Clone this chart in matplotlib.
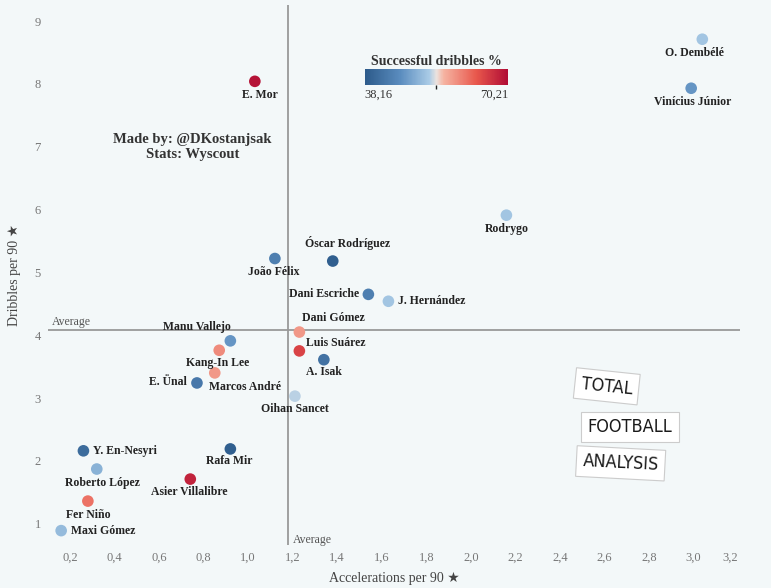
import matplotlib.pyplot as plt
import numpy as np
from matplotlib.colors import LinearSegmentedColormap, Normalize
from matplotlib.colorbar import ColorbarBase

# data
players = ['O. Dembélé', 'Vinícius Júnior', 'E. Mor', 'Rodrygo', 'João Félix',
           'Óscar Rodríguez', 'Dani Escriche', 'J. Hernández', 'Dani Gómez',
           'Manu Vallejo', 'Kang-In Lee', 'Luis Suárez', 'A. Isak', 'Marcos André',
           'E. Ünal', 'Oihan Sancet', 'Y. En-Nesyri', 'Roberto López', 'Rafa Mir',
           'Asier Villalibre', 'Fer Niño', 'Maxi Gómez']
accel = [3.04, 2.99, 1.03, 2.16, 1.12, 1.38, 1.54, 1.63, 1.23, 0.92, 0.87,
         1.23, 1.34, 0.85, 0.77, 1.21, 0.26, 0.32, 0.92, 0.74, 0.28, 0.16]
dribbles = [8.71, 7.93, 8.04, 5.91, 5.22, 5.18, 4.65, 4.54, 4.05, 3.91, 3.76,
            3.75, 3.61, 3.40, 3.24, 3.03, 2.16, 1.87, 2.19, 1.71, 1.36, 0.89]
success = [52, 47, 69.5, 52, 44, 39, 44, 52, 58, 47, 59,
           65, 42, 58, 43, 53, 41, 50, 39, 68, 61, 51]

# label offsets (points) and alignment
offsets = [(-6, -10, 'center'), (1, -10, 'center'), (4, -10, 'center'), (0, -10, 'center'),
           (-1, -10, 'center'), (11, 13, 'center'), (-7, 0, 'right'), (7, 0, 'left'),
           (2, 10, 'left'), (-24, 10, 'center'), (-1, -9, 'center'), (5, 6, 'left'),
           (0, -9, 'center'), (22, -10, 'center'), (-7, 1, 'right'), (0, -9, 'center'),
           (7, 0, 'left'), (4, -10, 'center'), (-1, -9, 'center'), (-1, -9, 'center'),
           (0, -10, 'center'), (7, 0, 'left')]

avg_x = 1.18
avg_y = 4.08
cmin, cmax = 38.16, 70.21

bg = '#f3f8f9'
plt.rcParams['font.family'] = ['Liberation Serif', 'DejaVu Sans']

cmap = LinearSegmentedColormap.from_list('dr', [
    (0, '#2c5a8a'), (0.25, '#5b8dbf'), (0.45, '#a9cbe6'), (0.5, '#ebe3df'),
    (0.55, '#f5b4a2'), (0.78, '#e8574c'), (1, '#b00c35')])
norm = Normalize(cmin, cmax)

fig = plt.figure(figsize=(7.71, 5.88), dpi=100, facecolor=bg)
ax = fig.add_axes([0.062, 0.073, 0.898, 0.918], facecolor=bg)

ax.axhline(avg_y, color='#999999', lw=1.3, zorder=1)
ax.axvline(avg_x, color='#999999', lw=1.3, zorder=1)

ax.scatter(accel, dribbles, c=success, cmap=cmap, norm=norm, s=70, zorder=3, linewidths=0)

for name, x, y, (dx, dy, ha) in zip(players, accel, dribbles, offsets):
    ax.annotate(name, (x, y), xytext=(dx, dy), textcoords='offset points',
                ha=ha, va='center', fontsize=8.5, color='#222222', fontweight='bold')

ax.text(0.12, avg_y + 0.04, 'Average', fontsize=8.5, color='#555555', va='bottom')
ax.text(avg_x + 0.02, 0.74, 'Average', fontsize=8.5, color='#555555', va='center')

ax.text(0.75, 7.0, 'Made by: @DKostanjsak\nStats: Wyscout', ha='center', va='center',
        fontsize=10.5, fontweight='bold', color='#333333', linespacing=1.2)

ax.set_xlim(0.10, 3.21)
ax.set_ylim(0.66, 9.25)
xt = np.arange(0.2, 3.21, 0.2)
ax.set_xticks(xt)
ax.set_xticklabels([f'{v:.1f}'.replace('.', ',') for v in xt])
ax.set_yticks(range(1, 10))
ax.get_xticklabels()[-1].set_ha('right')
ax.tick_params(length=0, labelsize=9, colors='#777777', pad=5)
for s in ax.spines.values():
    s.set_visible(False)

ax.set_xlabel('Accelerations per 90 ★', fontsize=10, color='#444444', labelpad=6)
ax.set_ylabel('Dribbles per 90 ★', fontsize=10, color='#444444', labelpad=10)

# colour bar
cax = fig.add_axes([0.473, 0.855, 0.186, 0.027])
cb = ColorbarBase(cax, cmap=cmap, norm=norm, orientation='horizontal')
cb.outline.set_visible(False)
cb.set_ticks([(cmin + cmax) / 2])
cb.set_ticklabels([''])
cax.tick_params(length=3, width=1, color='#222222')
cax.set_title('Successful dribbles %', fontsize=10, fontweight='bold', color='#333333', pad=3)
cax.text(0, -0.2, '38,16', transform=cax.transAxes, ha='left', va='top', fontsize=9, color='#333333')
cax.text(1, -0.2, '70,21', transform=cax.transAxes, ha='right', va='top', fontsize=9, color='#333333')

# logo
logo = [('TOTAL', 0.787, 0.343, -6), ('FOOTBALL', 0.817, 0.274, 0), ('ANALYSIS', 0.805, 0.212, -3)]
for word, fx, fy, rot in logo:
    fig.text(fx, fy, word, ha='center', va='center', rotation=rot, fontsize=13,
             family='DejaVu Sans', fontstretch='condensed', color='#1a1a1a',
             bbox=dict(boxstyle='square,pad=0.35', fc='white', ec='#cccccc', lw=0.8))

fig.savefig('out.png', dpi=100, facecolor=bg)
